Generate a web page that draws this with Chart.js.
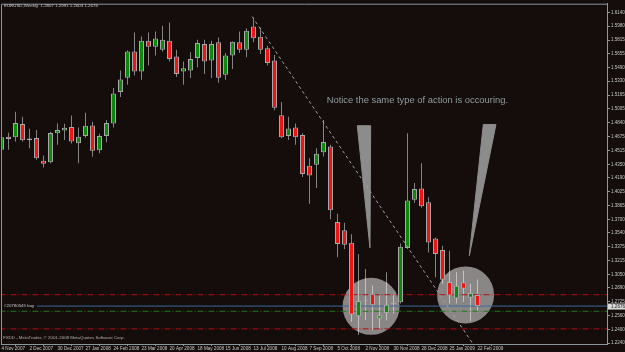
<!DOCTYPE html>
<html>
<head>
<meta charset="utf-8">
<script src="https://cdn.jsdelivr.net/npm/chart.js@4.4.1/dist/chart.umd.min.js"></script>
<style>
  html, body { margin: 0; padding: 0; background: #140d0b; }
</style>
</head>
<body>
<canvas id="theChart" width="625" height="352"></canvas>
<script>
// EURUSD weekly bars, 4 Nov 2007 .. 22 Feb 2009 (one value per week)
const opens = [
  1.4520, 1.4676, 1.4668, 1.4825, 1.4633, 1.4661, 1.4392, 1.4375, 1.4715, 1.4750,
  1.4790, 1.4598, 1.4684, 1.4808, 1.4516, 1.4684, 1.4832, 1.5203, 1.5371, 1.5680,
  1.5446, 1.5809, 1.5738, 1.5703, 1.5809, 1.5621, 1.5446, 1.5457, 1.5605, 1.5769,
  1.5574, 1.5789, 1.5406, 1.5633, 1.5789, 1.5703, 1.5976, 1.5856, 1.5719, 1.5574,
  1.4930, 1.4684, 1.4785, 1.4696, 1.4333, 1.4345, 1.4492, 1.4559, 1.3669, 1.3572,
  1.3423, 1.2556, 1.2740, 1.2822, 1.2529, 1.2595, 1.2700, 1.2720, 1.3361, 1.3930,
  1.4064, 1.3903, 1.3473, 1.3337, 1.2960, 1.2764, 1.2958, 1.2775, 1.2807
];
const highs = [
  1.4758, 1.4723, 1.4969, 1.4910, 1.4770, 1.4755, 1.4454, 1.4735, 1.4832, 1.4828,
  1.4926, 1.4785, 1.4957, 1.4852, 1.4711, 1.4872, 1.5250, 1.5457, 1.5692, 1.5906,
  1.5859, 1.5906, 1.5918, 1.5984, 1.6023, 1.5703, 1.5563, 1.5672, 1.5820, 1.5820,
  1.5809, 1.5847, 1.5663, 1.5800, 1.5918, 1.5956, 1.6082, 1.5964, 1.5750, 1.5640,
  1.5086, 1.4910, 1.4832, 1.4715, 1.4422, 1.4539, 1.4872, 1.4579, 1.3766, 1.3661,
  1.3525, 1.3291, 1.3115, 1.2919, 1.2802, 1.3075, 1.2822, 1.3415, 1.4715, 1.4129,
  1.4363, 1.3962, 1.3485, 1.3388, 1.3329, 1.3075, 1.3095, 1.2940, 1.2991
];
const lows = [
  1.4442, 1.4520, 1.4618, 1.4620, 1.4539, 1.4403, 1.4313, 1.4363, 1.4579, 1.4637,
  1.4594, 1.4363, 1.4664, 1.4438, 1.4481, 1.4609, 1.4785, 1.5145, 1.5289, 1.5399,
  1.5347, 1.5516, 1.5633, 1.5680, 1.5563, 1.5379, 1.5289, 1.5367, 1.5496, 1.5417,
  1.5367, 1.5312, 1.5347, 1.5476, 1.5663, 1.5613, 1.5789, 1.5652, 1.5516, 1.4989,
  1.4656, 1.4637, 1.4579, 1.4199, 1.3883, 1.4071, 1.4442, 1.3700, 1.3251, 1.3349,
  1.2490, 1.2334, 1.2509, 1.2392, 1.2412, 1.2509, 1.2588, 1.2705, 1.3349, 1.3895,
  1.3836, 1.3309, 1.3017, 1.2939, 1.2705, 1.2705, 1.2724, 1.2501, 1.2603
];
const closes = [
  1.4668, 1.4649, 1.4837, 1.4633, 1.4653, 1.4422, 1.4356, 1.4719, 1.4755, 1.4782,
  1.4618, 1.4676, 1.4805, 1.4509, 1.4684, 1.4837, 1.5186, 1.5352, 1.5680, 1.5446,
  1.5809, 1.5738, 1.5836, 1.5820, 1.5593, 1.5417, 1.5484, 1.5593, 1.5781, 1.5563,
  1.5769, 1.5371, 1.5633, 1.5797, 1.5703, 1.5926, 1.5839, 1.5703, 1.5546, 1.5016,
  1.4668, 1.4773, 1.4668, 1.4235, 1.4216, 1.4473, 1.4612, 1.3806, 1.3408, 1.3399,
  1.2576, 1.2735, 1.2750, 1.2685, 1.2568, 1.2693, 1.2717, 1.3376, 1.3923, 1.4059,
  1.3853, 1.3426, 1.3291, 1.2986, 1.2802, 1.2916, 1.2881, 1.2829, 1.2676
];

// one date label every 4 weeks
const dateTicks = [
  "4 Nov 2007", "2 Dec 2007", "30 Dec 2007", "27 Jan 2008", "24 Feb 2008", "23 Mar 2008",
  "20 Apr 2008", "18 May 2008", "15 Jun 2008", "13 Jul 2008", "10 Aug 2008", "7 Sep 2008",
  "5 Oct 2008", "2 Nov 2008", "30 Nov 2008", "28 Dec 2008", "25 Jan 2009", "22 Feb 2009"
];
const priceTicks = [
  1.6140, 1.5980, 1.5815, 1.5655, 1.5490, 1.5330, 1.5165, 1.5005, 1.4840, 1.4675,
  1.4515, 1.4350, 1.4190, 1.4025, 1.3865, 1.3700, 1.3540, 1.3375, 1.3215, 1.3050,
  1.2890, 1.2725, 1.2560, 1.2400, 1.2240
];

// drawn objects on the chart (bar index, price)
const redLevels = [1.2810, 1.2407];
const orderLevel = 1.2615;
const bidLevel = 1.2676;
const trendLine = [{ x: 35.8, y: 1.6093 }, { x: 68.0, y: 1.2150 }];
const circleMarks = [{ x: 52.8, y: 1.2673 }, { x: 66.3, y: 1.2808 }];
const spikeA = [{ x: 50.83, y: 1.4805 }, { x: 52.74, y: 1.4805 }, { x: 52.64, y: 1.3364 }, { x: 50.83, y: 1.4805 }];
const spikeB = [{ x: 68.83, y: 1.4820 }, { x: 70.64, y: 1.4820 }, { x: 66.83, y: 1.3271 }, { x: 68.83, y: 1.4820 }];

const BG = "#140d0b";
const UP = "#0b8a0b";
const DOWN = "#f01414";
const WICK = "#858585";
const AXIS = "#8a96a0";
const TXT = "#c8c8c8";
const FONT = "'Liberation Sans', Arial, sans-serif";

const bodies = opens.map((o, i) => ({ x: i, y: [o, closes[i]] }));
const wicks = opens.map((o, i) => ({ x: i, y: [lows[i], highs[i]] }));
const bodyColors = opens.map((o, i) => (closes[i] >= o ? UP : DOWN));

function levelLine(p) {
  return [{ x: -5, y: p }, { x: 95, y: p }];
}

const mtOverlay = {
  id: "mtOverlay",
  beforeDraw(chart) {
    const ctx = chart.ctx;
    ctx.save();
    ctx.fillStyle = BG;
    ctx.fillRect(0, 0, chart.width, chart.height);
    ctx.restore();
  },
  afterDraw(chart) {
    const ctx = chart.ctx;
    const a = chart.chartArea;
    const sx = chart.scales.x, sy = chart.scales.y;
    ctx.save();
    // frame
    ctx.strokeStyle = AXIS;
    ctx.lineWidth = 1;
    ctx.beginPath();
    ctx.moveTo(a.left + 0.5, a.bottom);
    ctx.lineTo(a.left + 0.5, a.top + 0.5);
    ctx.lineTo(a.right, a.top + 0.5);
    ctx.stroke();

    // header / footer
    ctx.fillStyle = TXT;
    ctx.font = "4.4px " + FONT;
    ctx.textBaseline = "middle";
    ctx.fillText("EURUSD,Weekly  1.2807 1.2991 1.2603 1.2676", 4, 6);
    ctx.fillStyle = "#b0b0b0";
    ctx.fillText("FXDD - MetaTrader, \u00a9 2001-2008 MetaQuotes Software Corp.", 3, 338);

    // order label over the bid line
    const oy = sy.getPixelForValue(bidLevel);
    ctx.fillStyle = BG;
    ctx.fillRect(a.left + 1, oy - 3, 35, 5);
    ctx.fillStyle = "#c8c8c8";
    ctx.fillText("#20780545 buy", 4, oy);

    // current price box on the axis
    ctx.fillStyle = "#d8d8d8";
    ctx.fillRect(a.right + 1, oy - 2.5, 17, 6);
    ctx.fillStyle = "#202020";
    ctx.font = "4.6px " + FONT;
    ctx.fillText(bidLevel.toFixed(4), a.right + 4, oy + 0.5);

    // comment text
    ctx.fillStyle = "#939ba0";
    ctx.font = "9.4px " + FONT;
    ctx.textBaseline = "alphabetic";
    ctx.fillText("Notice the same type of action is occouring.", sx.getPixelForValue(46.45), sy.getPixelForValue(1.5074));
    ctx.restore();
  }
};

const config = {
  type: "bar",
  data: {
    datasets: [
      {
        type: "line", label: "level hi", data: levelLine(redLevels[0]),
        borderColor: "#b01010", borderWidth: 1, borderDash: [6, 2, 1, 2], pointRadius: 0, order: 5,
      },
      {
        type: "line", label: "level lo", data: levelLine(redLevels[1]),
        borderColor: "#b01010", borderWidth: 1, borderDash: [6, 2, 1, 2], pointRadius: 0, order: 5,
      },
      {
        type: "line", label: "order", data: levelLine(orderLevel),
        borderColor: "#1f7a1f", borderWidth: 1, borderDash: [6, 2, 1, 2], pointRadius: 0, order: 5,
      },
      {
        type: "line", label: "bid", data: levelLine(bidLevel),
        borderColor: "#3a6a98", borderWidth: 1, pointRadius: 0, order: 5,
      },
      {
        type: "bubble", label: "circles", data: circleMarks,
        backgroundColor: "rgba(255,255,255,0.5)", borderWidth: 0, radius: 28.5, order: 6,
      },
      {
        type: "bar", label: "wicks", data: wicks,
        backgroundColor: WICK, grouped: false, maxBarThickness: 1, order: 7,
      },
      {
        type: "bar", label: "bodies", data: bodies,
        backgroundColor: bodyColors, borderColor: "#a8a8a8", borderWidth: 1,
        borderSkipped: false, grouped: false, maxBarThickness: 5, minBarLength: 1, order: 4,
      },
      {
        type: "line", label: "spike A", data: spikeA,
        borderColor: "#8c8c8c", backgroundColor: "#8c8c8c", borderWidth: 1, fill: "shape", pointRadius: 0, order: 3,
      },
      {
        type: "line", label: "spike B", data: spikeB,
        borderColor: "#8c8c8c", backgroundColor: "#8c8c8c", borderWidth: 1, fill: "shape", pointRadius: 0, order: 3,
      },
      {
        type: "line", label: "trend", data: trendLine,
        borderColor: "#a0a0a0", borderWidth: 1, borderDash: [3, 3], pointRadius: 0, order: 2,
      },
    ],
  },
  options: {
    responsive: false,
    animation: false,
    layout: { autoPadding: false, padding: { left: 1, top: 1, right: 0, bottom: 0 } },
    plugins: {
      legend: { display: false },
      tooltip: { enabled: false },
    },
    scales: {
      x: {
        type: "linear",
        min: -0.0714,
        max: 86.5,
        offset: false,
        afterBuildTicks: (scale) => {
          scale.ticks = dateTicks.map((_, k) => ({ value: k * 4 }));
        },
        afterFit: (scale) => { scale.height = 8; },
        ticks: {
          autoSkip: false, maxRotation: 0, minRotation: 0, align: "start",
          padding: 0, color: TXT, font: { family: FONT, size: 4.6 },
          callback: (v, k) => dateTicks[k],
        },
        grid: { drawOnChartArea: false, drawTicks: true, tickLength: 2, color: AXIS },
        border: { display: true, color: AXIS },
      },
      y: {
        type: "linear",
        position: "right",
        min: 1.22283,
        max: 1.62455,
        afterBuildTicks: (scale) => {
          scale.ticks = priceTicks.map((v) => ({ value: v }));
        },
        afterFit: (scale) => { scale.width = 18; },
        ticks: {
          padding: 1, color: TXT, font: { family: FONT, size: 4.5 },
          callback: (v) => v.toFixed(4),
        },
        grid: { drawOnChartArea: false, drawTicks: true, tickLength: 3, color: AXIS },
        border: { display: true, color: AXIS },
      },
    },
  },
  plugins: [mtOverlay],
};

const theChart = new Chart(document.getElementById("theChart"), config);
</script>
</body>
</html>
